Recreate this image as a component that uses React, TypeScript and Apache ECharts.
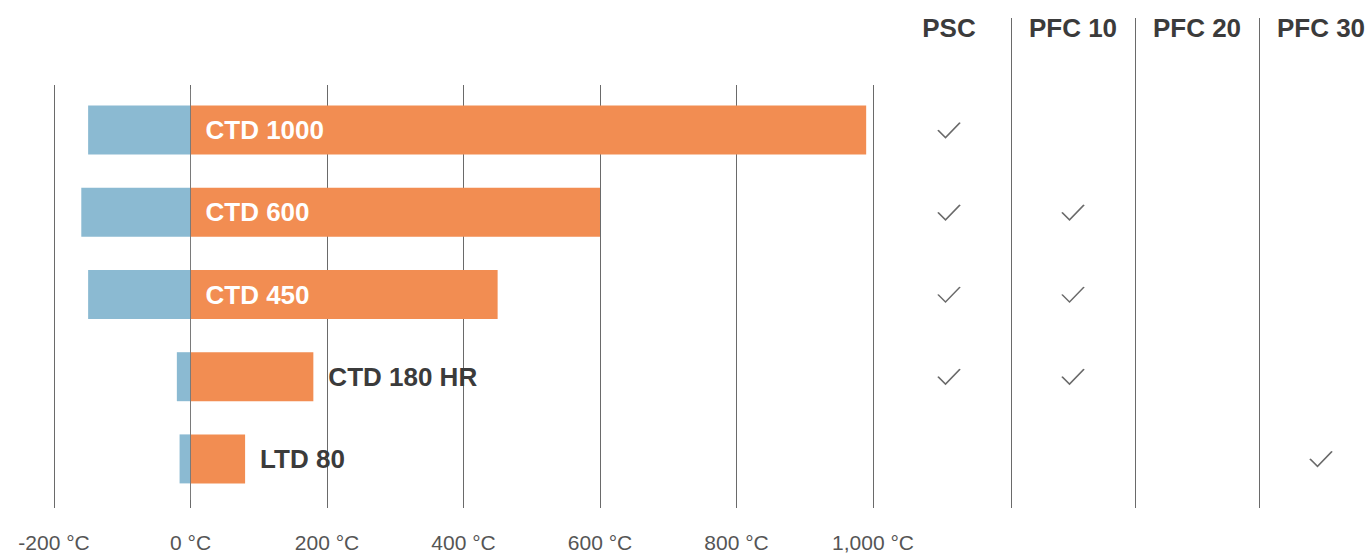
import React, { useEffect, useRef } from "react";
import * as echarts from "echarts";

const products = ["CTD 1000", "CTD 600", "CTD 450", "CTD 180 HR", "LTD 80"];
const minTemps = [-150, -160, -150, -20, -16];
const maxTemps = [990, 600, 450, 180, 80];
const labelInside = [true, true, true, false, false];
const xTicks = [-200, 0, 200, 400, 600, 800, 1000];
const columns = ["PSC", "PFC 10", "PFC 20", "PFC 30"];
const checks: [string, string][] = [
  ["PSC", "CTD 1000"],
  ["PSC", "CTD 600"],
  ["PFC 10", "CTD 600"],
  ["PSC", "CTD 450"],
  ["PFC 10", "CTD 450"],
  ["PSC", "CTD 180 HR"],
  ["PFC 10", "CTD 180 HR"],
  ["PFC 30", "LTD 80"],
];

const FONT = "'Liberation Sans', Arial, Helvetica, sans-serif";
const ORANGE = "#F28D52";
const BLUE = "#8BBAD2";
const DARK = "#3b3b3b";
const LINE = "#6a6a6a";

export default function App() {
  const ref = useRef<HTMLDivElement>(null);
  useEffect(() => {
    document.body.style.margin = "0";
    document.body.style.overflow = "hidden";
    document.documentElement.style.overflow = "hidden";
    if (!ref.current) return;
    const chart = echarts.init(ref.current, undefined, { renderer: "svg" });
    const xMin = xTicks[0];
    const xMax = xTicks[xTicks.length - 1];
    const step = xTicks[1] - xTicks[0];
    chart.setOption({
      animation: false,
      textStyle: { fontFamily: FONT },
      grid: [
        { left: 54, width: 819, top: 85, bottom: 45 },
        { left: 54, width: 819, top: 89, height: 411 },
        { left: 887, width: 496, top: 89, height: 411 },
        { left: 1011, width: 248, top: 18, bottom: 45 },
      ],
      xAxis: [
        {
          gridIndex: 0,
          type: "value",
          min: xMin,
          max: xMax,
          interval: step,
          axisLine: { show: false },
          axisTick: { show: false },
          splitLine: { show: true, lineStyle: { color: LINE, width: 1 } },
          axisLabel: {
            margin: 24,
            fontSize: 21,
            color: "#555",
            fontFamily: FONT,
            formatter: (v: number) => v.toLocaleString("en-US") + " °C",
          },
        },
        {
          gridIndex: 1,
          type: "value",
          min: xMin,
          max: xMax,
          show: false,
        },
        {
          gridIndex: 2,
          type: "category",
          data: columns,
          position: "top",
          axisLine: { show: false },
          axisTick: { show: false },
          splitLine: { show: false },
          axisLabel: {
            margin: 48,
            fontSize: 26,
            fontWeight: "bold",
            color: DARK,
            fontFamily: FONT,
          },
        },
        {
          gridIndex: 3,
          type: "value",
          min: 1,
          max: 3,
          interval: 1,
          axisLine: { show: false },
          axisTick: { show: false },
          axisLabel: { show: false },
          splitLine: { show: true, lineStyle: { color: LINE, width: 1 } },
        },
      ],
      yAxis: [
        { gridIndex: 0, type: "value", show: false, splitLine: { show: false } },
        { gridIndex: 1, type: "category", data: products, inverse: true, show: false },
        { gridIndex: 2, type: "category", data: products, inverse: true, show: false },
        { gridIndex: 3, type: "value", show: false, splitLine: { show: false } },
      ],
      series: [
        {
          type: "bar",
          xAxisIndex: 1,
          yAxisIndex: 1,
          data: minTemps,
          barWidth: 49,
          barGap: "-100%",
          itemStyle: { color: BLUE },
          silent: true,
        },
        {
          type: "bar",
          xAxisIndex: 1,
          yAxisIndex: 1,
          barWidth: 49,
          barGap: "-100%",
          itemStyle: { color: ORANGE },
          silent: true,
          data: maxTemps.map((v, i) => ({
            value: v,
            label: {
              show: true,
              formatter: products[i],
              position: labelInside[i] ? "insideLeft" : "right",
              distance: 15,
              color: labelInside[i] ? "#fff" : DARK,
              fontSize: 26,
              fontWeight: "bold",
              fontFamily: FONT,
            },
          })),
          markLine: {
            silent: true,
            symbol: "none",
            label: { show: false },
            lineStyle: { color: "#7a7a7a", width: 1, type: "solid" },
            data: [{ xAxis: 0 }],
          },
        },
        {
          type: "scatter",
          xAxisIndex: 2,
          yAxisIndex: 2,
          silent: true,
          symbol: "path://M0,7.5 L7.5,15 L22,0",
          symbolSize: [22, 15],
          itemStyle: { color: "rgba(0,0,0,0)", borderColor: "#444", borderWidth: 1.5 },
          data: checks,
        },
      ],
    });
    return () => chart.dispose();
  }, []);
  return <div ref={ref} style={{ width: 1383, height: 553 }} />;
}
